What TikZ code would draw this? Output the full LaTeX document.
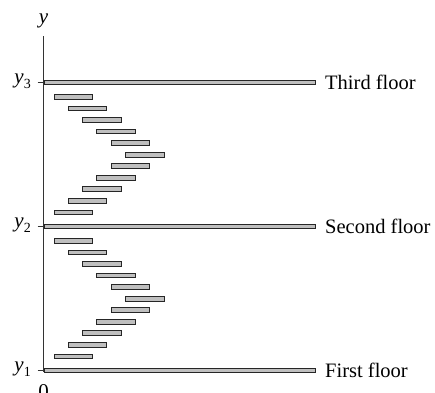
\documentclass[tikz,border=0pt]{standalone}
\usepackage{fontspec}
\setmainfont{Liberation Serif}
\begin{document}
\begin{tikzpicture}[x=1pt,y=-1pt,
  slab/.style={draw=black!85, fill=black!25, line width=0.8pt, inner sep=0pt,
    minimum width=271.5pt, minimum height=4.5pt, anchor=west},
  tread/.style={draw=black!85, fill=black!25, line width=0.8pt, inner sep=0pt,
    minimum width=38.5pt, minimum height=4.8pt, anchor=west},
  lbl/.style={font=\fontsize{20.5}{24}\selectfont, inner sep=0pt, anchor=base west},
  axlbl/.style={font=\fontsize{21}{24}\selectfont, inner sep=0pt},
  axis/.style={draw=black!80, line width=0.9pt}]
\useasboundingbox (0,0) rectangle (435,392);
% axis
\coordinate (axtop) at (43.5,36);
\coordinate (axbot) at (43.5,372);
\draw[axis] (axbot) -- (axtop);
\node[axlbl, anchor=base] (ylab) at (43.5,23) {\textit{y}};
\node[axlbl, anchor=base] (zero) at (43.5,398) {0};
% floors
\foreach \k/\yy/\name in {3/82.5/Third floor, 2/226.5/Second floor, 1/370.5/First floor}{
  \node[slab] (f\k) at (43.5,\yy) {};
  \coordinate (t\k) at (37.5,\yy);
  \draw[axis] (t\k) -- (f\k.west);
  \node[axlbl, anchor=base east] (yl\k) at (31,\yy+1) {\textit{y}\raisebox{-4.5pt}{\fontsize{14}{16}\selectfont\k}};
  \node[lbl] (fl\k) at (325,\yy+7) {\name};
}
% treads
\foreach \base/\fl in {82.5/u, 226.5/l}{
  \foreach \i in {0,...,10}{
    \pgfmathsetmacro{\xx}{53.5+14.3*(5-abs(5-\i))}
    \pgfmathsetmacro{\yy}{\base+14.3+11.55*\i}
    \node[tread] (\fl\i) at (\xx,\yy) {};
  }
}
\end{tikzpicture}
\end{document}
